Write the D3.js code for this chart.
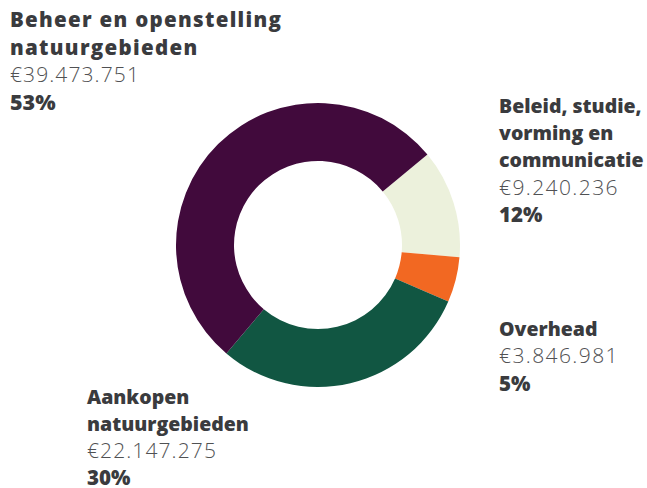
<!DOCTYPE html>
<html>
<head>
<meta charset="utf-8">
<script src="https://cdn.jsdelivr.net/npm/d3@7"></script>
<style>
  body { margin: 0; background: #fff; }
  svg { display: block; }
  .lbl { font-family: "Open Sans", sans-serif; font-weight: 800; fill: #3a3b3e; }
  .val { font-family: "Open Sans", sans-serif; font-weight: 300; fill: #505153; }
</style>
</head>
<body>
<div id="chart"></div>
<script>
// Chart constants
const WIDTH = 647;
const HEIGHT = 488;

// Data
const categories = [
  "Beleid, studie, vorming en communicatie",
  "Overhead",
  "Aankopen natuurgebieden",
  "Beheer en openstelling natuurgebieden",
];
const labelLines = [
  ["Beleid, studie,", "vorming en", "communicatie"],
  ["Overhead"],
  ["Aankopen", "natuurgebieden"],
  ["Beheer en openstelling", "natuurgebieden"],
];
const amounts = [9240236, 3846981, 22147275, 39473751];
const amountLabels = ["€9.240.236", "€3.846.981", "€22.147.275", "€39.473.751"];
const percentLabels = ["12%", "5%", "30%", "53%"];
const colors = ["#ecf1dc", "#f26822", "#115642", "#410a3c"];

// Label block layout (x, first baseline, line step, font size, letter spacing)
const labelPos = [
  {x: 499, y: 113, step: 27.2, size: 19.5, ls: 0, vsize: 21, vls: 1.4},
  {x: 499, y: 336, step: 27.4, size: 19.5, ls: 0, vsize: 21, vls: 1.4},
  {x: 87, y: 404, step: 27, size: 19.5, ls: 0, vsize: 21, vls: 1.1},
  {x: 10, y: 27, step: 27.7, size: 20.5, ls: 1.3, vsize: 21, vls: 1.1},
];

const svg = d3
  .select("#chart")
  .append("svg")
  .attr("width", WIDTH)
  .attr("height", HEIGHT);

// Donut
const cx = 318, cy = 245;
const startA = 50.4 * Math.PI / 180;
const pie = d3
  .pie()
  .sort(null)
  .startAngle(startA)
  .endAngle(startA + 2 * Math.PI);
const arc = d3.arc().innerRadius(84).outerRadius(142);

svg
  .append("g")
  .attr("transform", `translate(${cx},${cy})`)
  .selectAll("path")
  .data(pie(amounts))
  .join("path")
  .attr("d", arc)
  .attr("fill", (d, i) => colors[i]);

// Labels
categories.forEach((c, i) => {
  const p = labelPos[i];
  const g = svg.append("g").attr("class", "block");
  const lines = labelLines[i];
  lines.forEach((t, j) => {
    g.append("text")
      .attr("class", "lbl")
      .attr("x", p.x)
      .attr("y", p.y + j * p.step)
      .attr("font-size", p.size)
      .attr("letter-spacing", p.ls)
      .text(t);
  });
  const n = lines.length;
  g.append("text")
    .attr("class", "val")
    .attr("x", p.x)
    .attr("y", p.y + n * p.step)
    .attr("font-size", p.vsize)
    .attr("letter-spacing", p.vls)
    .text(amountLabels[i]);
  g.append("text")
    .attr("class", "lbl")
    .attr("x", p.x)
    .attr("y", p.y + (n + 1) * p.step)
    .attr("font-size", p.size + 1)
    .text(percentLabels[i]);
});
</script>
</body>
</html>
